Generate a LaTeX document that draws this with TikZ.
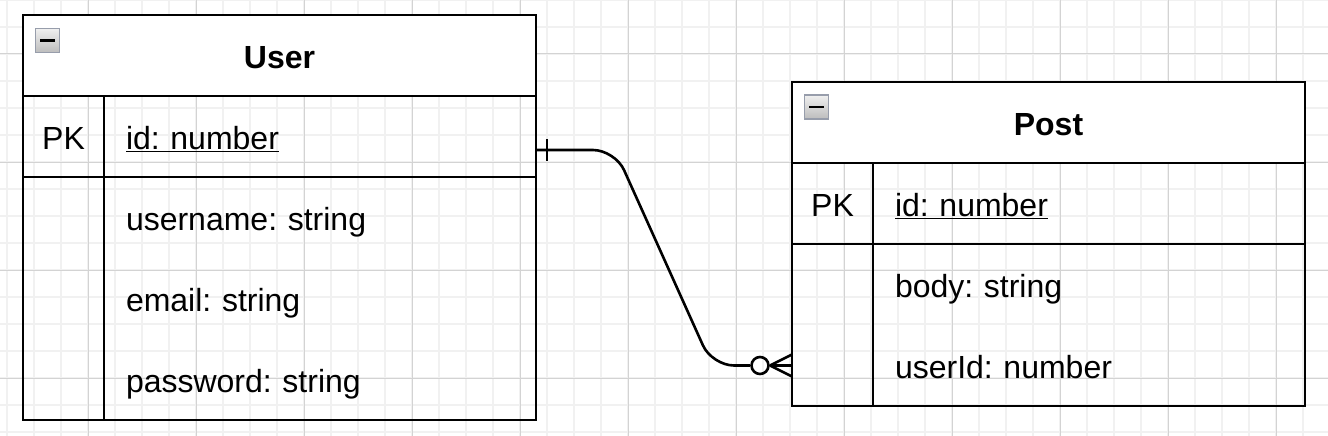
\documentclass[tikz,border=0pt]{standalone}
\usepackage{fontspec}
\setmainfont{Liberation Sans}
\frenchspacing
\usetikzlibrary{positioning}
\definecolor{minorgrid}{HTML}{F1F1F1}
\definecolor{majorgrid}{HTML}{D3D3D3}
\definecolor{toggleedge}{HTML}{979DAB}

\begin{document}
\begin{tikzpicture}[
    x=1pt, y=-1pt,
    gridminor/.style={draw=minorgrid, line width=1.4pt},
    gridmajor/.style={draw=majorgrid, line width=1pt},
    header/.style={
        fill=white,
        anchor=north west,
        minimum width=513pt,
        minimum height=81pt,
        text height=30pt,
        text depth=4pt,
        inner sep=0pt,
        outer sep=0pt,
        font=\fontsize{32}{38}\selectfont\bfseries
    },
    keycell/.style={
        minimum width=81pt,
        minimum height=81pt,
        text height=30pt,
        text depth=4pt,
        inner sep=0pt,
        outer sep=0pt,
        font=\fontsize{32}{38}\selectfont
    },
    fieldcell/.style={
        minimum height=81pt,
        text width=388pt,
        text height=30pt,
        text depth=4pt,
        inner xsep=22pt,
        inner ysep=0pt,
        outer sep=0pt,
        align=left,
        font=\fontsize{32}{38}\selectfont
    },
    tableline/.style={line width=2.6pt},
    toggle/.style={
        draw=toggleedge,
        line width=1.6pt,
        top color=black!6,
        bottom color=black!26,
        minimum size=24pt,
        inner sep=0pt
    },
    relation/.style={line width=2.6pt},
    zeromark/.style={circle, draw, line width=2.6pt, minimum size=17pt, inner sep=0pt}
]
\useasboundingbox (0,0) rectangle (1328,436);

\foreach \gx in {7,34,...,1328} \draw[gridminor] (\gx,0) -- (\gx,436);
\foreach \gy in {0,27,...,436} \draw[gridminor] (0,\gy) -- (1328,\gy);
\foreach \gx in {88,196,...,1328} \draw[gridmajor] (\gx,0) -- (\gx,436);
\foreach \gy in {54,162,...,436} \draw[gridmajor] (0,\gy) -- (1328,\gy);

\node[header] (user) at (23,15) {User};
\node[keycell, anchor=north west] (user-id-key) at (user.south west) {PK};
\node[fieldcell, right=0pt of user-id-key] (user-id) {\underline{id: number}};
\node[keycell, below=0pt of user-id-key] (user-username-key) {};
\node[fieldcell, right=0pt of user-username-key] (user-username) {username: string};
\node[keycell, below=0pt of user-username-key] (user-email-key) {};
\node[fieldcell, right=0pt of user-email-key] (user-email) {email: string};
\node[keycell, below=0pt of user-email-key] (user-password-key) {};
\node[fieldcell, right=0pt of user-password-key] (user-password) {password: string};

\node[header] (post) at (792,82) {Post};
\node[keycell, anchor=north west] (post-id-key) at (post.south west) {PK};
\node[fieldcell, right=0pt of post-id-key] (post-id) {\underline{id: number}};
\node[keycell, below=0pt of post-id-key] (post-body-key) {};
\node[fieldcell, right=0pt of post-body-key] (post-body) {body: string};
\node[keycell, below=0pt of post-body-key] (post-userid-key) {};
\node[fieldcell, right=0pt of post-userid-key] (post-userid) {userId: number};

\draw[tableline] (user.north west) rectangle (user-password.south east);
\draw[tableline] (user.south west) -- (user.south east);
\draw[tableline] (user-id-key.south west) -- (user-id.south east);
\draw[tableline] (user-id-key.north east) -- (user-password-key.south east);

\draw[tableline] (post.north west) rectangle (post-userid.south east);
\draw[tableline] (post.south west) -- (post.south east);
\draw[tableline] (post-id-key.south west) -- (post-id.south east);
\draw[tableline] (post-id-key.north east) -- (post-userid-key.south east);

\node[toggle] (user-toggle) at ([xshift=24.5pt,yshift=-25.5pt]user.north west) {\rule{15pt}{2.4pt}};
\node[toggle] (post-toggle) at ([xshift=24.5pt,yshift=-25pt]post.north west) {\rule{15pt}{2.4pt}};

\node[zeromark] (zero-mark) at ([xshift=-32pt]post-userid-key.west) {};
\draw[relation, rounded corners=22pt] ([yshift=-13.5pt]user-id.east) -- ++(79,0)
    -- ([xshift=-80pt]post-userid-key.west) -- (zero-mark.west);
\draw[relation] ([xshift=11pt,yshift=-2.5pt]user-id.east) -- ([xshift=11pt,yshift=-24.5pt]user-id.east);
\draw[relation] (zero-mark.east) -- (post-userid-key.west);
\draw[relation] ([xshift=-22pt]post-userid-key.west) -- ([yshift=11pt]post-userid-key.west);
\draw[relation] ([xshift=-22pt]post-userid-key.west) -- ([yshift=-11pt]post-userid-key.west);
\end{tikzpicture}
\end{document}
